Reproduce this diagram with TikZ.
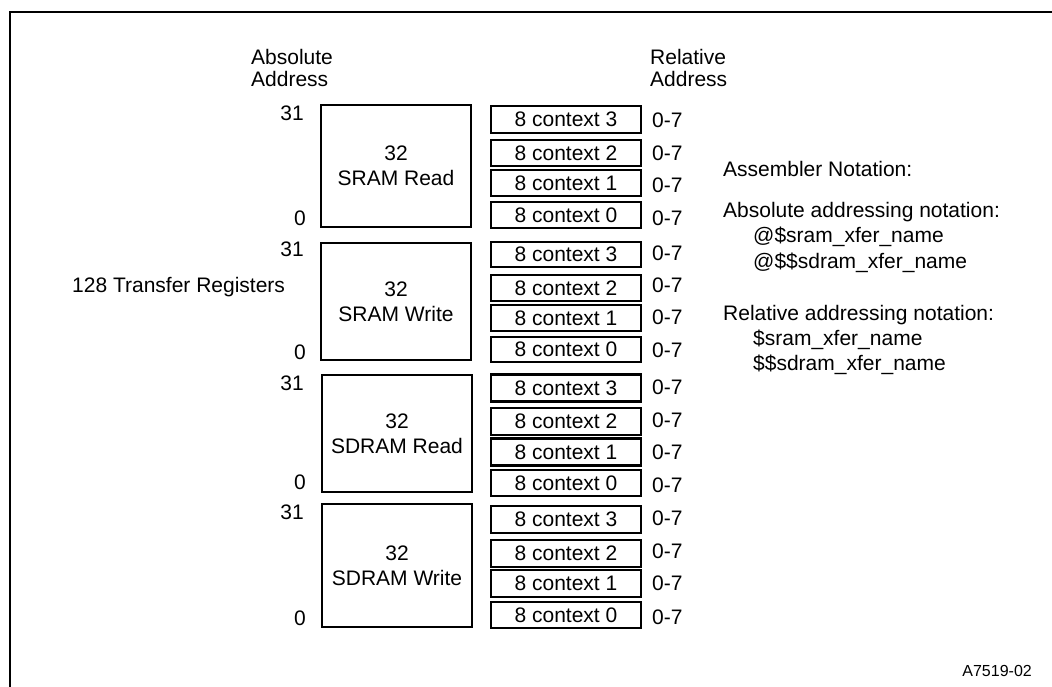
\documentclass[tikz,border=0pt]{standalone}
\usepackage{fontspec}
\setmainfont{Liberation Sans}
\begin{document}
\begin{tikzpicture}[x=1pt,y=-1pt,
  txt/.style={inner sep=0pt, font=\fontsize{21}{25}\selectfont},
  bigbox/.style={draw, line width=2.1pt, minimum width=150pt, inner sep=0pt, align=center, font=\fontsize{21}{25}\selectfont},
  ctxbox/.style={draw, line width=2.1pt, minimum width=150pt, inner sep=0pt, font=\fontsize{21}{25}\selectfont},
  rel/.style={txt, anchor=west},
  hi/.style={txt, anchor=east},
  lo/.style={txt, anchor=east}]
\useasboundingbox (0,0) rectangle (1052,687);
\draw[line width=2.4pt] (10,700) -- (10,12) -- (1070,12);

% headings
\node[txt, anchor=base west] (absA) at (251,65) {Absolute};
\node[txt, anchor=base west] (absB) at (251,87) {Address};
\node[txt, anchor=base west] (relA) at (650,65) {Relative};
\node[txt, anchor=base west] (relB) at (650,87) {Address};
\node[txt, anchor=base west] (tr) at (72,292) {128 Transfer Registers};

% big boxes
\node[bigbox, minimum height=122pt] (sr) at (396,166) {32\\SRAM Read};
\node[bigbox, minimum height=117pt] (sw) at (396,301.5) {32\\SRAM Write};
\node[bigbox, minimum height=117pt] (dr) at (397,433.5) {32\\SDRAM Read};
\node[bigbox, minimum height=123pt] (dw) at (397,565.5) {32\\SDRAM Write};

% absolute address labels
\node[hi] (h1) at (304,113) {31};
\node[lo] (l1) at (306,218) {0};
\node[hi] (h2) at (304,249) {31};
\node[lo] (l2) at (306,352) {0};
\node[hi] (h3) at (304,383) {31};
\node[lo] (l3) at (306,482) {0};
\node[hi] (h4) at (304,512) {31};
\node[lo] (l4) at (306,618) {0};

% context boxes
\node[ctxbox, minimum height=27pt] (a3) at (566,119.5) {8 context 3};
\node[ctxbox, minimum height=26pt] (a2) at (566,153) {8 context 2};
\node[ctxbox, minimum height=26pt] (a1) at (566,183) {8 context 1};
\node[ctxbox, minimum height=26pt] (a0) at (566,215) {8 context 0};

\node[ctxbox, minimum height=25pt] (b3) at (566,254.5) {8 context 3};
\node[ctxbox, minimum height=26pt] (b2) at (566,288) {8 context 2};
\node[ctxbox, minimum height=26pt] (b1) at (566,318) {8 context 1};
\node[ctxbox, minimum height=25pt] (b0) at (566,349.5) {8 context 0};

\node[ctxbox, minimum height=27pt] (c3) at (566,388) {8 context 3};
\node[ctxbox, minimum height=27pt] (c2) at (566,421.5) {8 context 2};
\node[ctxbox, minimum height=27pt] (c1) at (566,452) {8 context 1};
\node[ctxbox, minimum height=26pt] (c0) at (566,483) {8 context 0};

\node[ctxbox, minimum height=27pt] (d3) at (566,519.5) {8 context 3};
\node[ctxbox, minimum height=27pt] (d2) at (566,553.5) {8 context 2};
\node[ctxbox, minimum height=27pt] (d1) at (566,583.5) {8 context 1};
\node[ctxbox, minimum height=26pt] (d0) at (566,615) {8 context 0};

% relative address labels
\foreach \n/\y in {ra3/120,ra2/153,ra1/185,ra0/218,rb3/253,rb2/285,rb1/317,rb0/350,
                   rc3/387,rc2/420,rc1/452,rc0/485,rd3/518,rd2/551,rd1/583,rd0/617}
  \node[rel] (\n) at (652,\y) {0-7};

% assembler notation
\node[txt, anchor=base west] (n1) at (723,177) {Assembler Notation:};
\node[txt, anchor=base west] (n2) at (723,218) {Absolute addressing notation:};
\node[txt, anchor=base west] (n3) at (753,243) {@\$sram\_xfer\_name};
\node[txt, anchor=base west] (n4) at (753,268) {@\$\$sdram\_xfer\_name};
\node[txt, anchor=base west] (n5) at (723,320) {Relative addressing notation:};
\node[txt, anchor=base west] (n6) at (753,345) {\$sram\_xfer\_name};
\node[txt, anchor=base west] (n7) at (753,370) {\$\$sdram\_xfer\_name};

\node[inner sep=0pt, anchor=base east, font=\fontsize{16}{19}\selectfont] (fig) at (1032,676) {A7519-02};
\end{tikzpicture}
\end{document}
